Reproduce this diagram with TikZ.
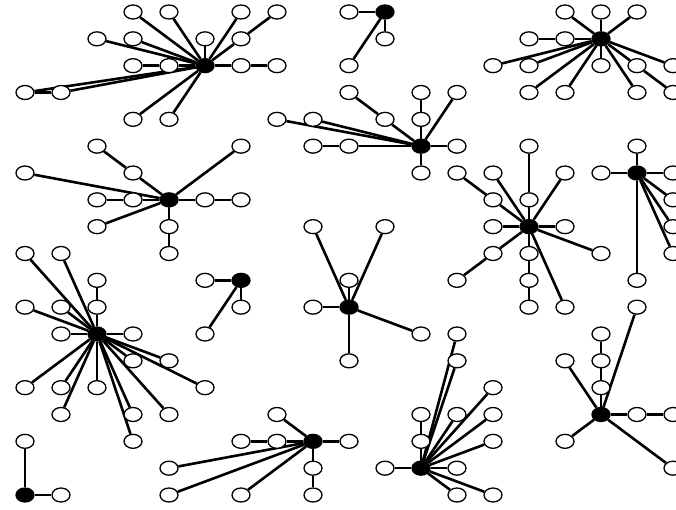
\documentclass[tikz,border=0pt]{standalone}
\usetikzlibrary{shapes.geometric,backgrounds}
\tikzset{
  wn/.style={ellipse,draw=black,fill=white,line width=1.3pt,minimum width=18pt,minimum height=14pt,inner sep=0pt},
  bn/.style={wn,fill=black},
  edge/.style={line width=2.6pt,black}
}
\begin{document}
\begin{tikzpicture}[x=36pt,y=-26.833pt]
\useasboundingbox (-0.6944,-0.4472) rectangle (18.0833,18.5224);
% filled centres
\foreach \i/\j in {5/2,10/0,16/1,11/5,4/7,6/10,9/11,14/8,17/6,2/12,0/18,8/16,11/17,16/15}
  \node[bn] (v\i-\j) at (\i,\j) {};
% open nodes
\foreach \i/\j in {3/0,4/0,6/0,7/0,2/1,3/1,5/1,6/1,3/2,4/2,6/2,7/2,0/3,1/3,3/4,4/4,
  9/0,10/1,9/2,
  15/0,16/0,17/0,14/1,15/1,13/2,14/2,16/2,17/2,18/2,14/3,15/3,17/3,18/3,
  9/3,11/3,12/3,7/4,8/4,10/4,11/4,8/5,9/5,12/5,11/6,
  2/5,6/5,0/6,3/6,2/7,3/7,5/7,6/7,2/8,4/8,4/9,
  5/10,6/11,5/12,
  8/8,10/8,9/10,8/11,11/12,9/13,
  14/5,12/6,13/6,15/6,13/7,14/7,13/8,15/8,13/9,14/9,16/9,12/10,14/10,14/11,15/11,
  17/5,16/6,18/6,18/7,18/8,18/9,17/10,
  0/9,1/9,2/10,0/11,1/11,2/11,1/12,3/12,3/13,4/13,0/14,1/14,2/14,5/14,1/15,3/15,4/15,3/16,
  0/16,1/18,
  7/15,6/16,7/16,9/16,8/17,8/18,4/17,4/18,6/18,
  12/12,12/13,13/14,11/15,12/15,13/15,11/16,13/16,10/17,12/17,12/18,13/18,
  17/11,16/12,15/13,16/13,16/14,17/15,18/15,15/16,18/17}
  \node[wn] (v\i-\j) at (\i,\j) {};
\begin{scope}[on background layer]
\fill[white] (-0.6944,-0.4472) rectangle (18.0833,18.5224);
% star 1
\foreach \t in {3-0,4-0,6-0,6-1,2-1,3-1,5-1,4-2,6-2,0-3,1-3,3-4,4-4}
  \draw[edge] (v5-2) -- (v\t);
\draw[edge] (v6-1) -- (v7-0);
\draw[edge] (v3-2) -- (v4-2);
\draw[edge] (v6-2) -- (v7-2);
\draw[edge] (v0-3) -- (v1-3);
% star 2
\foreach \t in {9-0,10-1,9-2} \draw[edge] (v10-0) -- (v\t);
% star 3
\foreach \t in {15-0,16-0,17-0,15-1,13-2,14-2,16-2,17-2,18-2,14-3,15-3,17-3}
  \draw[edge] (v16-1) -- (v\t);
\draw[edge] (v14-1) -- (v15-1);
\draw[edge] (v17-2) -- (v18-3);
% star 4
\foreach \t in {10-4,11-4,12-3,7-4,8-4,9-5,12-5,11-6} \draw[edge] (v11-5) -- (v\t);
\draw[edge] (v9-3) -- (v10-4);
\draw[edge] (v11-3) -- (v11-4);
\draw[edge] (v8-5) -- (v9-5);
% star 5
\foreach \t in {3-6,6-5,0-6,3-7,5-7,2-8,4-8} \draw[edge] (v4-7) -- (v\t);
\draw[edge] (v2-5) -- (v3-6);
\draw[edge] (v2-7) -- (v3-7);
\draw[edge] (v5-7) -- (v6-7);
\draw[edge] (v4-8) -- (v4-9);
% star 6
\foreach \t in {5-10,6-11,5-12} \draw[edge] (v6-10) -- (v\t);
% star 7
\foreach \t in {8-8,10-8,9-10,8-11,11-12,9-13} \draw[edge] (v9-11) -- (v\t);
% star 8
\foreach \t in {14-7,13-7,13-6,15-6,13-8,15-8,13-9,14-9,16-9,15-11} \draw[edge] (v14-8) -- (v\t);
\draw[edge] (v14-5) -- (v14-7);
\draw[edge] (v12-6) -- (v13-7);
\draw[edge] (v12-10) -- (v13-9);
\draw[edge] (v14-9) -- (v14-10);
\draw[edge] (v14-10) -- (v14-11);
% star 9
\foreach \t in {17-5,16-6,18-6,18-7,18-8,18-9,17-10} \draw[edge] (v17-6) -- (v\t);
% star 10
\foreach \t in {0-9,1-9,0-11,1-11,2-11,1-12,3-12,3-13,4-13,0-14,1-14,2-14,5-14,1-15,3-15,4-15,3-16}
  \draw[edge] (v2-12) -- (v\t);
\draw[edge] (v2-10) -- (v2-11);
% star 11
\foreach \t in {0-16,1-18} \draw[edge] (v0-18) -- (v\t);
% star 12
\foreach \t in {7-15,7-16,9-16,8-17,4-17,4-18,6-18} \draw[edge] (v8-16) -- (v\t);
\draw[edge] (v6-16) -- (v7-16);
\draw[edge] (v8-17) -- (v8-18);
% star 13
\foreach \t in {12-12,12-13,13-14,11-16,12-15,13-15,13-16,10-17,12-17,12-18,13-18}
  \draw[edge] (v11-17) -- (v\t);
\draw[edge] (v11-15) -- (v11-16);
% star 14
\foreach \t in {17-11,16-14,15-13,17-15,15-16,18-17} \draw[edge] (v16-15) -- (v\t);
\draw[edge] (v16-12) -- (v16-13);
\draw[edge] (v16-13) -- (v16-14);
\draw[edge] (v17-15) -- (v18-15);
\end{scope}
\end{tikzpicture}
\end{document}
